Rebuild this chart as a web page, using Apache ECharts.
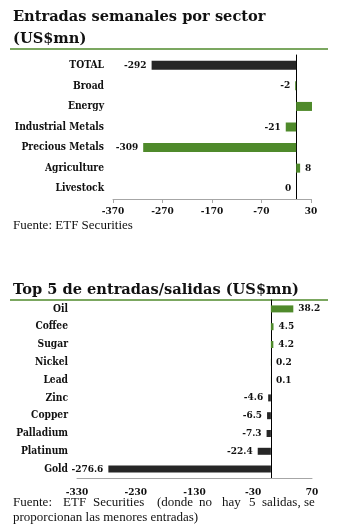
<!DOCTYPE html>
<html><head><meta charset="utf-8">
<script src="https://cdn.jsdelivr.net/npm/echarts@6/dist/echarts.min.js"></script>
<style>html,body{margin:0;padding:0;background:#fff}#c{width:347px;height:528px}</style>
</head><body><div id="c"></div>
<script>
const sectorCategories = ['TOTAL','Broad','Energy','Industrial Metals','Precious Metals','Agriculture','Livestock'];
const sectorValues = [-292, -2, 32, -21, -309, 8, 0];
const sectorHiddenLabels = ['Energy'];
const sectorTicks = { min: -370, max: 30, interval: 100 };

const topCategories = ['Oil','Coffee','Sugar','Nickel','Lead','Zinc','Copper','Palladium','Platinum','Gold'];
const topValues = [38.2, 4.5, 4.2, 0.2, 0.1, -4.6, -6.5, -7.3, -22.4, -276.6];
const topTicks = { min: -330, max: 70, interval: 100 };

const GREEN = '#4f8a2b', DARK = '#262626';
const SERIF = '"DejaVu Serif Condensed", "DejaVu Serif", serif';
const TITLESERIF = '"DejaVu Serif", serif';
const TEXTSERIF = '"Liberation Serif", serif';

const chart = echarts.init(document.getElementById('c'), null, {renderer: 'canvas'});

function sectorData() {
  return sectorValues.map((v, i) => ({
    value: v,
    itemStyle: { color: sectorCategories[i] === 'TOTAL' ? DARK : GREEN },
    label: sectorHiddenLabels.includes(sectorCategories[i]) ? { show: false } : { position: v > 0 ? 'right' : 'left' }
  }));
}
function topData() {
  return topValues.map(v => ({
    value: v,
    itemStyle: { color: v > 0 ? GREEN : DARK },
    label: { position: v > 0 ? 'right' : 'left' }
  }));
}
const labelFont = { fontFamily: SERIF, fontWeight: 'bold', fontSize: 10, color: '#111' };
const catFont = { fontFamily: SERIF, fontWeight: 'bold', fontSize: 10.2, color: '#111' };

const words1 = [['Fuente:',13],['ETF',63],['Securities',93],['(donde',157],['no',199],['hay',222],['5',249],['salidas,',262],['se',304]];

chart.setOption({
  animation: false,
  backgroundColor: '#fff',
  grid: [
    { left: 113, right: 36, top: 55, height: 144, containLabel: false },
    { left: 77, right: 35, top: 300, height: 178, containLabel: false }
  ],
  xAxis: [
    { gridIndex: 0, type: 'value', min: sectorTicks.min, max: sectorTicks.max, interval: sectorTicks.interval,
      splitLine: { show: false },
      axisLine: { show: true, lineStyle: { color: '#a6a6a6' } },
      axisTick: { show: true, length: 4, lineStyle: { color: '#a6a6a6' } },
      axisLabel: Object.assign({ margin: 7 }, labelFont) },
    { gridIndex: 1, type: 'value', min: topTicks.min, max: topTicks.max, interval: topTicks.interval,
      splitLine: { show: false },
      axisLine: { show: true, lineStyle: { color: '#a6a6a6' } },
      axisTick: { show: false },
      axisLabel: Object.assign({ margin: 9 }, labelFont) }
  ],
  yAxis: [
    { gridIndex: 0, type: 'category', data: sectorCategories, inverse: true,
      axisLine: { show: true, onZero: true, lineStyle: { color: '#000' } },
      axisTick: { show: false },
      axisLabel: Object.assign({}, catFont, { margin: 9 }) },
    { gridIndex: 1, type: 'category', data: topCategories, inverse: true,
      axisLine: { show: true, onZero: true, lineStyle: { color: '#000' } },
      axisTick: { show: false },
      axisLabel: Object.assign({}, catFont, { margin: 9 }) }
  ],
  series: [
    { type: 'bar', xAxisIndex: 0, yAxisIndex: 0, data: sectorData(), barWidth: 9, clip: false,
      label: Object.assign({ show: true, distance: 5 }, labelFont) },
    { type: 'bar', xAxisIndex: 1, yAxisIndex: 1, data: topData(), barWidth: 7, clip: false,
      label: Object.assign({ show: true, distance: 5 }, labelFont) }
  ],
  graphic: [
    { type: 'text', left: 13, top: 10, style: { text: 'Entradas semanales por sector', font: 'bold 14.6px ' + TITLESERIF, fill: '#111' } },
    { type: 'text', left: 13, top: 32, style: { text: '(US$mn)', font: 'bold 14.6px ' + TITLESERIF, fill: '#111' } },
    { type: 'line', shape: { x1: 10, y1: 49, x2: 328, y2: 49 }, style: { stroke: GREEN, lineWidth: 1.5 } },
    { type: 'text', left: 13, top: 219, style: { text: 'Fuente: ETF Securities', font: '13px ' + TEXTSERIF, fill: '#111' } },
    { type: 'text', left: 13, top: 283, style: { text: 'Top 5 de entradas/salidas (US$mn)', font: 'bold 14.6px ' + TITLESERIF, fill: '#111' } },
    { type: 'line', shape: { x1: 10, y1: 300, x2: 328, y2: 300 }, style: { stroke: GREEN, lineWidth: 1.5 } },
    ...words1.map(w => ({ type: 'text', left: w[1], top: 496, style: { text: w[0], font: '13px ' + TEXTSERIF, fill: '#111' } })),
    { type: 'text', left: 13, top: 511, style: { text: 'proporcionan las menores entradas)', font: '13px ' + TEXTSERIF, fill: '#111' } }
  ]
});
</script></body></html>
